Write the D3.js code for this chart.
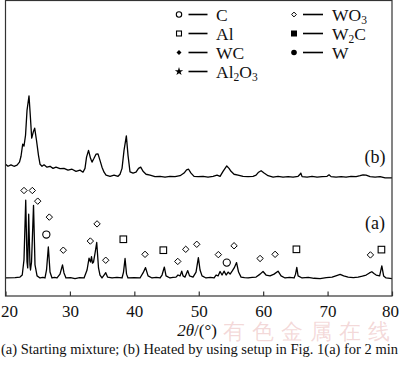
<!DOCTYPE html>
<html><head><meta charset="utf-8">
<script src="https://cdn.jsdelivr.net/npm/d3@7"></script>
<style>
html,body{margin:0;padding:0;background:#fff;}
svg{display:block;}
text{font-family:"Liberation Serif","Times New Roman",serif;fill:#111;}
</style></head>
<body>
<svg id="c" width="400" height="366"></svg>
<script>
// ---- data ----
const xTicks = [20, 30, 40, 50, 60, 70, 80];
const patternA = [
[20,6.1],[21.5,6.2],[22.25,6.4],[22.6,7.1],[22.87,12.2],[23.14,32.4],[23.34,11.5],[23.45,9.5],[23.6,27.7],[23.8,10.5],[23.88,8.8],[24.04,11.5],[24.35,30.7],[24.58,10.5],[24.9,6.8],[25.36,6.1],[25.8,6.3],[26.13,6.1],[26.37,8.8],[26.65,16.6],[26.91,8.1],[27.22,6.1],[27.6,6.3],[28.0,6.1],[28.46,7.4],[28.85,10.5],[29.08,7.8],[29.39,6.1],[30.1,6.2],[30.79,5.9],[31.5,6.2],[32.19,6.1],[32.66,8.8],[32.97,12.8],[33.2,11.5],[33.35,13.3],[33.5,11.1],[33.66,11.5],[33.9,14.5],[34.16,18.1],[34.44,9.5],[34.67,7.1],[34.98,6.1],[35.3,7.1],[35.56,7.9],[35.84,6.4],[36.54,6.1],[37.3,6.3],[38.09,6.1],[38.32,8.1],[38.56,12.7],[38.79,7.4],[39.02,6.1],[40.0,6.2],[40.88,6.1],[41.35,7.8],[41.74,9.6],[42.13,6.8],[42.75,6.1],[43.4,6.3],[44.0,6.1],[44.3,7.1],[44.66,9.8],[44.92,6.8],[45.54,6.1],[46.0,6.3],[46.47,6.4],[46.78,7.1],[47.1,6.8],[47.36,8.4],[47.56,6.8],[47.87,6.4],[48.29,8.6],[48.57,6.8],[49.11,6.4],[49.58,8.1],[49.94,13.0],[50.2,8.8],[50.51,6.8],[51.13,6.1],[51.8,6.3],[52.38,6.1],[52.69,7.1],[53.0,6.8],[53.31,8.3],[53.62,7.1],[53.93,8.4],[54.25,7.1],[54.56,8.1],[54.87,7.4],[55.18,8.4],[55.5,9.5],[55.87,11.3],[56.18,8.1],[56.57,6.4],[57.1,6.2],[57.66,6.1],[58.3,6.3],[58.9,6.4],[59.52,7.4],[59.98,8.3],[60.45,7.1],[61.07,6.8],[61.69,7.4],[62.31,8.4],[62.78,6.8],[63.4,6.1],[64.1,6.3],[64.8,6.1],[65.03,7.4],[65.22,9.7],[65.42,6.8],[66.04,6.1],[67.0,6.3],[67.9,6.0],[68.84,5.9],[69.8,6.2],[70.7,6.4],[71.4,6.9],[71.95,7.3],[72.5,6.8],[73.19,6.4],[74.0,6.2],[74.74,6.4],[75.4,6.7],[75.99,7.1],[76.5,7.8],[76.87,8.2],[77.2,7.6],[77.54,7.1],[78.08,6.8],[78.42,10.2],[78.7,6.8],[79.08,6.1],[80,5.9]
];
const patternB = [
[20,44.6],[20.39,43.9],[20.85,44.4],[21.32,43.9],[21.79,44.3],[22.17,45.3],[22.41,47.3],[22.67,51.4],[22.87,50.7],[23.11,54.4],[23.34,62.8],[23.65,67.7],[23.85,61.1],[24.07,53.4],[24.3,55.4],[24.53,56.8],[24.81,52.7],[25.12,47.6],[25.36,44.6],[25.67,43.9],[25.98,44.4],[26.44,43.6],[26.91,43.9],[27.38,43.2],[27.84,43.6],[28.46,43.1],[29.08,43.2],[29.7,42.6],[30.33,42.9],[30.95,42.2],[31.57,42.6],[32.03,41.9],[32.34,43.2],[32.58,47.0],[32.89,49.3],[33.2,46.6],[33.43,45.3],[33.74,46.6],[34.05,48.0],[34.36,48.1],[34.67,45.9],[34.98,43.6],[35.3,41.9],[35.61,40.9],[36.23,40.5],[36.85,40.9],[37.47,40.5],[37.78,41.2],[38.09,43.2],[38.4,49.3],[38.76,54.2],[39.02,47.6],[39.33,42.0],[39.8,41.6],[40.26,41.9],[40.65,43.2],[40.99,43.6],[41.35,42.2],[41.82,41.2],[42.44,40.9],[43.21,40.4],[43.99,40.5],[44.77,40.2],[45.54,40.5],[46.32,40.4],[47.1,40.7],[47.72,41.6],[48.11,42.7],[48.42,42.9],[48.8,41.6],[49.27,40.5],[49.89,40.4],[50.67,40.5],[51.44,40.2],[52.22,40.5],[52.84,40.9],[53.31,40.5],[53.77,42.2],[54.35,44.0],[54.7,43.2],[55.01,42.2],[55.48,41.2],[56.1,40.9],[56.88,40.5],[57.66,40.4],[58.43,40.5],[58.9,40.9],[59.29,41.9],[59.68,42.4],[60.14,41.6],[60.76,40.7],[61.54,40.2],[62.31,40.5],[63.09,40.2],[63.87,40.4],[64.64,40.2],[65.42,40.5],[65.73,41.2],[65.84,41.6],[66.04,40.4],[66.82,40.2],[67.59,40.5],[68.37,40.2],[69.15,40.4],[69.92,40.5],[70.23,41.0],[70.54,40.4],[71.32,40.2],[72.1,40.4],[72.87,40.2],[73.65,40.5],[74.43,40.4],[75.05,40.7],[75.51,41.0],[75.98,40.9],[76.6,40.4],[77.38,40.2],[78.15,40.4],[78.93,40.0],[80,40.0]
];
// peak markers on pattern (a): [2theta, height, phase]
const markersA = [
[22.87,35.7,"WO3"],[24.16,35.7,"WO3"],[25.0,32.1,"WO3"],[26.34,20.8,"C"],[26.8,26.7,"WO3"],[28.97,15.5,"WO3"],[33.17,18.6,"WO3"],[34.21,24.4,"WO3"],[35.56,12.1,"WO3"],[38.29,19.2,"Al"],[41.66,14.1,"WO3"],[44.5,15.5,"Al"],[46.74,11.7,"WO3"],[47.98,15.8,"WO3"],[49.69,17.5,"WO3"],[53.04,14.0,"WO3"],[54.35,11.3,"C"],[55.48,17.0,"WO3"],[59.52,12.7,"WO3"],[61.85,14.1,"WO3"],[65.16,15.8,"Al"],[76.65,13.9,"WO3"],[78.36,15.7,"Al"]
];
const legendLeft = [["C","C"],["Al","Al"],["WC","WC"],["Al2O3","Al2O3"]];
const legendRight = [["WO3","WO3"],["W2C","W2C"],["W","W"]];
const patternLabels = [["(b)",45.0],["(a)",22.7]];
const xTitle = "2θ/(°)";
const caption = "(a) Starting mixture; (b) Heated by using setup in Fig. 1(a) for 2 min";
const watermark = "有色金属在线";

// ---- drawing ----
const svg = d3.select("#c");
const x = d3.scaleLinear().domain([20,80]).range([5.5,392]);
const y = d3.scaleLinear().domain([0,100]).range([296,0.5]);

// watermark (background)
svg.append("text").attr("x",223).attr("y",339).attr("font-size",22)
  .attr("font-family","'Noto Sans CJK SC',sans-serif").style("fill","rgba(215,120,120,0.28)")
  .attr("letter-spacing",7).text(watermark);

const line = d3.line().x(d=>x(d[0])).y(d=>y(d[1]));
[patternA, patternB].forEach(p=>{
  svg.append("path").attr("d", line(p)).attr("fill","none")
    .attr("stroke","#000").attr("stroke-width",1.3).attr("stroke-linejoin","round");
});

// symbols
function drawSym(g, type, cx, cy, big){
  const s = big ? 1 : 0.75;
  if(type==="WO3"){ // open diamond
    const r = 3.2*s;
    g.append("path").attr("d",`M${cx},${cy-r}L${cx+r},${cy}L${cx},${cy+r}L${cx-r},${cy}Z`)
      .attr("fill","#fff").attr("stroke","#000").attr("stroke-width",1);
  } else if(type==="C"){
    g.append("circle").attr("cx",cx).attr("cy",cy).attr("r",3.6*s)
      .attr("fill","#fff").attr("stroke","#000").attr("stroke-width",1.1);
  } else if(type==="Al"){
    const h = 3.3*s;
    g.append("rect").attr("x",cx-h).attr("y",cy-h).attr("width",2*h).attr("height",2*h)
      .attr("fill","#fff").attr("stroke","#000").attr("stroke-width",1.1);
  } else if(type==="WC"){
    const r = 3.3*s;
    g.append("path").attr("d",`M${cx},${cy-r}L${cx+r},${cy}L${cx},${cy+r}L${cx-r},${cy}Z`).attr("fill","#000");
  } else if(type==="Al2O3"){
    g.append("path").attr("d",d3.symbol(d3.symbolStar, 22)()).attr("transform",`translate(${cx},${cy})`).attr("fill","#000");
  } else if(type==="W2C"){
    g.append("rect").attr("x",cx-3).attr("y",cy-3).attr("width",6).attr("height",6).attr("fill","#000");
  } else if(type==="W"){
    g.append("circle").attr("cx",cx).attr("cy",cy).attr("r",2.8).attr("fill","#000");
  }
}
const mg = svg.append("g");
markersA.forEach(m=>drawSym(mg, m[2], x(m[0]), y(m[1]), true));

// legend
function chemText(t, label, px, py){
  const txt = t.append("text").attr("x",px).attr("y",py).attr("font-size",17.5);
  const parts = label.match(/[A-Za-z]+|\d+/g);
  let prevSub = false;
  parts.forEach(p=>{
    if(/\d/.test(p)){
      txt.append("tspan").attr("font-size",11.5).attr("dy",3.5).text(p);
      prevSub = true;
    } else {
      const ts = txt.append("tspan").text(p);
      if(prevSub) ts.attr("dy",-3.5);
      prevSub = false;
    }
  });
}
const lg = svg.append("g");
legendLeft.forEach((d,i)=>{
  const cy = 14.5 + i*19;
  drawSym(lg, d[0], 179, cy, false);
  lg.append("line").attr("x1",188.5).attr("x2",207.5).attr("y1",cy).attr("y2",cy).attr("stroke","#000").attr("stroke-width",1.6);
  chemText(lg, d[1], 216, cy+6.2);
});
legendRight.forEach((d,i)=>{
  const cy = 14.5 + i*19;
  drawSym(lg, d[0], 294, cy, false);
  lg.append("line").attr("x1",303).attr("x2",323).attr("y1",cy).attr("y2",cy).attr("stroke","#000").attr("stroke-width",1.6);
  chemText(lg, d[1], 332, cy+6.2);
});

// pattern labels
patternLabels.forEach(d=>{
  svg.append("text").attr("x",375).attr("y",y(d[1])).attr("text-anchor","middle").attr("font-size",18).text(d[0]);
});

// frame
svg.append("rect").attr("x",5.5).attr("y",0.5).attr("width",386.5).attr("height",295.5)
  .attr("fill","none").attr("stroke","#333").attr("stroke-width",1.2);

// axis
const ax = svg.append("g").attr("transform","translate(0,296)")
  .call(d3.axisBottom(x).tickValues(xTicks).tickSize(-4.5).tickFormat(d3.format("d")));
ax.select(".domain").remove();
ax.selectAll(".tick line").attr("stroke","#333").attr("stroke-width",1.2);
ax.selectAll(".tick text").attr("dy",0).attr("y",20.5).attr("font-size",17)
  .attr("font-family","'Liberation Serif',serif").attr("fill","#111")
  .attr("dx",d=> d===20 ? 3.5 : (d===80 ? -2 : 0));

// axis title
const tt = svg.append("text").attr("x",197).attr("y",336).attr("text-anchor","middle").attr("font-size",17);
tt.append("tspan").attr("font-style","italic").text(xTitle.slice(0,2));
tt.append("tspan").text(xTitle.slice(2));

// caption
svg.append("text").attr("x",1).attr("y",354).attr("font-size",14).attr("textLength",397).attr("lengthAdjust","spacingAndGlyphs").text(caption);
</script>
</body></html>
